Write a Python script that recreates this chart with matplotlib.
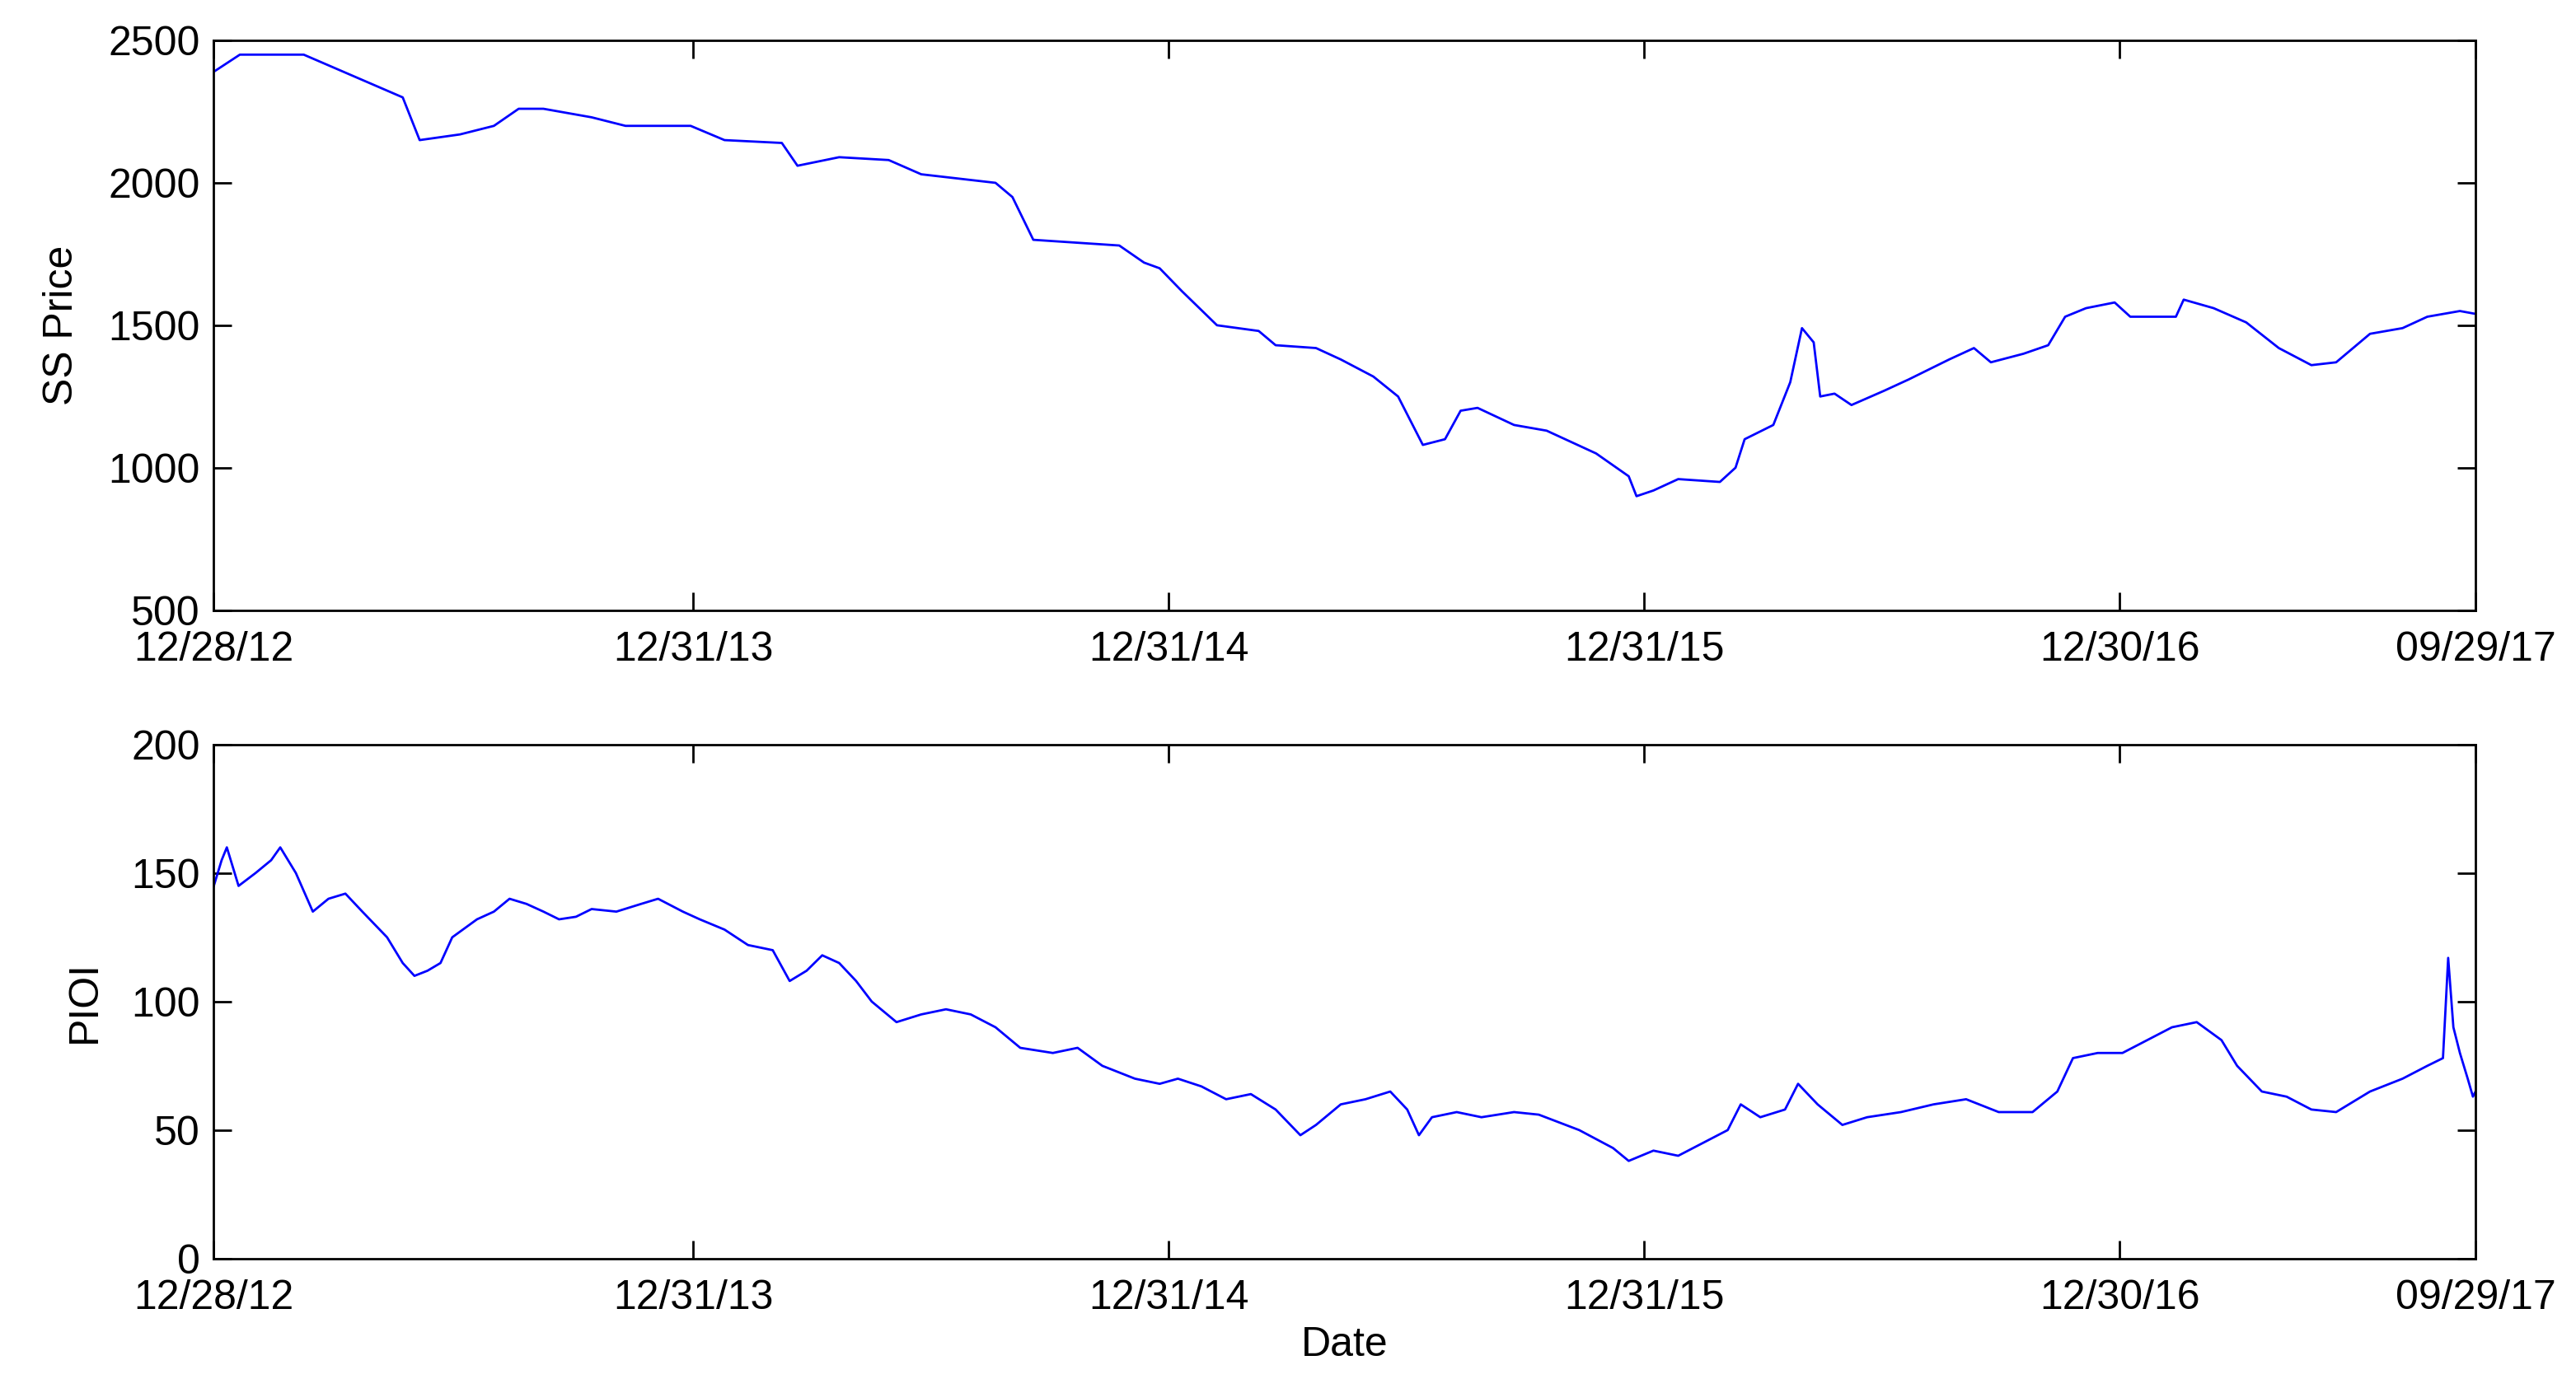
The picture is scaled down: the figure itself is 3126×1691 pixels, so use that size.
import matplotlib
matplotlib.use("Agg")
import matplotlib.pyplot as plt
import numpy as np
import datetime as dt

start = dt.date(2012, 12, 28)
tick_dates = [dt.date(2012,12,28), dt.date(2013,12,31), dt.date(2014,12,31),
              dt.date(2015,12,31), dt.date(2016,12,30), dt.date(2017,9,29)]
tick_labels = ["12/28/12", "12/31/13", "12/31/14", "12/31/15", "12/30/16", "09/29/17"]

# days since 12/28/12
ss_days = [0, 20, 69, 145, 158, 189, 215, 234, 253, 290, 316, 366, 392, 436, 448, 480, 518, 543, 600, 613, 629,
           695, 714, 726, 743, 770, 802, 815, 846, 865, 890, 909, 928, 945, 957, 970, 998, 1023, 1061, 1086, 1092,
           1105, 1124, 1156, 1168, 1175, 1197, 1210, 1219, 1228, 1233, 1244, 1257, 1282, 1301, 1332, 1351, 1364,
           1389, 1408, 1421, 1437, 1459, 1471, 1506, 1512, 1535, 1560, 1585, 1610, 1629, 1655, 1680, 1699, 1724, 1736]
ss_price = [2390, 2450, 2450, 2300, 2150, 2170, 2200, 2260, 2260, 2230, 2200, 2200, 2150, 2140, 2060, 2090, 2080,
            2030, 2000, 1950, 1800, 1780, 1720, 1700, 1620, 1500, 1480, 1430, 1420, 1380, 1320, 1250, 1080, 1100,
            1200, 1210, 1150, 1130, 1050, 970, 900, 920, 960, 950, 1000, 1100, 1150, 1300, 1490, 1440, 1250, 1260,
            1220, 1270, 1310, 1380, 1420, 1370, 1400, 1430, 1530, 1560, 1580, 1530, 1530, 1590, 1560, 1510, 1420,
            1360, 1370, 1470, 1490, 1530, 1550, 1540]

pioi_days = [0, 6, 10, 19, 32, 44, 51, 63, 76, 88, 101, 114, 133, 145, 154, 164, 174, 183, 202, 215, 227, 240, 253,
             265, 278, 290, 309, 328, 341, 360, 373, 392, 410, 429, 442, 455, 467, 480, 493, 505, 524, 543, 562, 581,
             600, 619, 644, 663, 682, 707, 726, 740, 758, 777, 796, 815, 834, 846, 865, 884, 903, 916, 925, 935, 954,
             973, 998, 1017, 1048, 1074, 1086, 1105, 1124, 1143, 1162, 1172, 1187, 1206, 1216, 1231, 1250, 1269, 1295,
             1320, 1345, 1370, 1396, 1415, 1427, 1446, 1465, 1484, 1503, 1522, 1541, 1553, 1572, 1591, 1610, 1629,
             1655, 1680, 1699, 1711, 1715, 1719, 1724, 1730, 1734, 1736]
pioi = [145, 155, 160, 145, 150, 155, 160, 150, 135, 140, 142, 135, 125, 115, 110, 112, 115, 125, 132, 135, 140, 138,
        135, 132, 133, 136, 135, 138, 140, 135, 132, 128, 122, 120, 108, 112, 118, 115, 108, 100, 92, 95, 97, 95, 90,
        82, 80, 82, 75, 70, 68, 70, 67, 62, 64, 58, 48, 52, 60, 62, 65, 58, 48, 55, 57, 55, 57, 56, 50, 43, 38, 42,
        40, 45, 50, 60, 55, 58, 68, 60, 52, 55, 57, 60, 62, 57, 57, 65, 78, 80, 80, 85, 90, 92, 85, 75, 65, 63, 58,
        57, 65, 70, 75, 78, 117, 90, 80, 70, 63, 65]

def todates(days):
    return [start + dt.timedelta(days=d) for d in days]

plt.rcParams['font.family'] = ['Liberation Sans', 'DejaVu Sans']
fig = plt.figure(figsize=(15.63, 8.455), dpi=200)
ax1 = fig.add_axes([0.083, 0.562, 0.878, 0.409])
ax2 = fig.add_axes([0.083, 0.0965, 0.878, 0.369])

fs = 18
for ax, d, v, yl, ylab, yt in [(ax1, ss_days, ss_price, (500, 2500), "SS Price", [500,1000,1500,2000,2500]),
                               (ax2, pioi_days, pioi, (0, 200), "PIOI", [0,50,100,150,200])]:
    ax.plot(todates(d), v, color='#0000ff', lw=1.0)
    ax.set_xlim(tick_dates[0], tick_dates[-1])
    ax.set_ylim(*yl)
    ax.set_yticks(yt)
    ax.set_xticks(tick_dates)
    ax.set_xticklabels(tick_labels)
    ax.set_ylabel(ylab, fontsize=fs, labelpad=12)
    ax.tick_params(direction='in', length=8, labelsize=fs, top=True, right=True, width=1)
    ax.tick_params(axis='x', pad=9)
    ax.tick_params(axis='y', pad=6)
    for s in ax.spines.values():
        s.set_linewidth(1)
ax2.set_xlabel("Date", fontsize=fs, labelpad=4)
fig.savefig("out.png", dpi=200)
